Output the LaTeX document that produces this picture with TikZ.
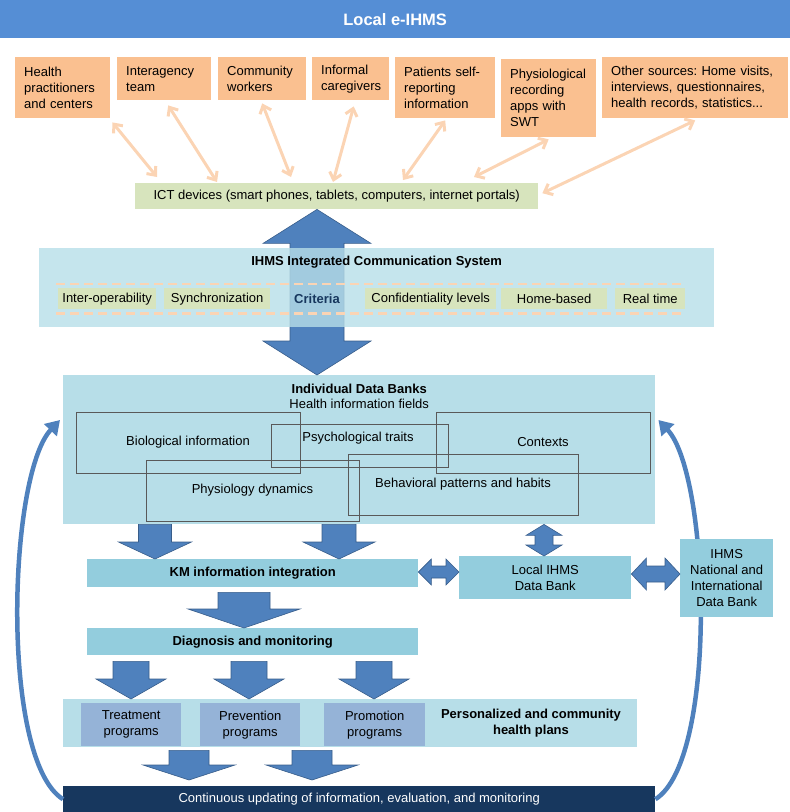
\documentclass[tikz,border=0pt]{standalone}
\usepackage{fontspec}
\setmainfont{Liberation Sans}
\usetikzlibrary{arrows.meta,calc}

\definecolor{titleblue}{HTML}{558ED5}
\definecolor{srcorange}{HTML}{FAC090}
\definecolor{linkorange}{HTML}{FBD4B4}
\definecolor{ictgreen}{HTML}{D7E4BD}
\definecolor{panelblue}{HTML}{B7DEE8}
\definecolor{stepblue}{HTML}{93CDDD}
\definecolor{progblue}{HTML}{95B3D7}
\definecolor{arrowblue}{HTML}{4F81BD}
\definecolor{arrowedge}{HTML}{385D8A}
\definecolor{navy}{HTML}{17375E}
\definecolor{fieldgray}{HTML}{595959}

\frenchspacing
\newcommand{\diagfont}{\fontsize{13}{16}\selectfont}

\tikzset{
  base/.style={anchor=north west, inner sep=0pt},
  srcbox/.style={base, fill=srcorange, align=left, inner xsep=9pt},
  crit/.style={base, fill=ictgreen, minimum height=21pt},
  field/.style={draw=fieldgray, line width=0.6pt},
  stepbox/.style={base, fill=stepblue, align=center},
  progbox/.style={base, fill=progblue, align=center, minimum width=100pt, minimum height=43pt},
  link/.style={draw=linkorange, line width=3pt, >={Straight Barb[length=7pt,width=12pt]}, <->},
  critline/.style={draw=linkorange, line width=2.5pt, dash pattern=on 9pt off 5pt},
  blockarrow/.style={fill=arrowblue, draw=arrowedge, line width=0.6pt},
  curvearrow/.style={draw=arrowblue, line width=4.5pt, -{Triangle[length=14pt,width=17pt]}}
}

% block arrows: x, shaft half width, head half width, start, end, head length
\newcommand{\blockdn}[6]{%
  \filldraw[blockarrow] let \p1=(#4), \p2=(#5) in
    ({(#1-#2)*1pt},\y1) -- ({(#1+#2)*1pt},\y1) -- ({(#1+#2)*1pt},\y2+#6pt)
    -- ({(#1+#3)*1pt},\y2+#6pt) -- ({#1*1pt},\y2) -- ({(#1-#3)*1pt},\y2+#6pt)
    -- ({(#1-#2)*1pt},\y2+#6pt) -- cycle;}
\newcommand{\blockvv}[6]{%
  \filldraw[blockarrow] let \p1=(#4), \p2=(#5) in
    ({#1*1pt},\y1) -- ({(#1+#3)*1pt},\y1-#6pt) -- ({(#1+#2)*1pt},\y1-#6pt)
    -- ({(#1+#2)*1pt},\y2+#6pt) -- ({(#1+#3)*1pt},\y2+#6pt) -- ({#1*1pt},\y2)
    -- ({(#1-#3)*1pt},\y2+#6pt) -- ({(#1-#2)*1pt},\y2+#6pt)
    -- ({(#1-#2)*1pt},\y1-#6pt) -- ({(#1-#3)*1pt},\y1-#6pt) -- cycle;}
% y, shaft half height, head half height, left, right, head length
\newcommand{\blockhh}[6]{%
  \filldraw[blockarrow] let \p1=(#4), \p2=(#5) in
    (\x1,{-#1*1pt}) -- (\x1+#6pt,{-(#1-#3)*1pt}) -- (\x1+#6pt,{-(#1-#2)*1pt})
    -- (\x2-#6pt,{-(#1-#2)*1pt}) -- (\x2-#6pt,{-(#1-#3)*1pt}) -- (\x2,{-#1*1pt})
    -- (\x2-#6pt,{-(#1+#3)*1pt}) -- (\x2-#6pt,{-(#1+#2)*1pt})
    -- (\x1+#6pt,{-(#1+#2)*1pt}) -- (\x1+#6pt,{-(#1+#3)*1pt}) -- cycle;}

\begin{document}
\begin{tikzpicture}[x=1pt, y=-1pt, every node/.style={font=\diagfont}]
  \useasboundingbox (0,0) rectangle (790,812);

  % title bar
  \node[base, fill=titleblue, text=white, minimum width=790pt, minimum height=38pt,
        font=\bfseries\fontsize{16.5}{18}\selectfont] (title) at (0,0) {Local e-IHMS};

  % information sources
  \node[srcbox, text width=77pt, minimum height=61pt] (hp) at (15,57) {Health\\practitioners\\and centers};
  \node[srcbox, text width=76pt, minimum height=43pt] (iat) at (117,57) {Interagency\\team};
  \node[srcbox, text width=70pt, minimum height=43pt] (cw) at (218,57) {Community\\workers};
  \node[srcbox, text width=59pt, minimum height=43pt] (ic) at (312,57) {Informal\\caregivers};
  \node[srcbox, text width=82pt, minimum height=61pt] (psr) at (395,57) {Patients self-\\reporting\\information};
  \node[srcbox, text width=77pt, minimum height=78pt] (pra) at (501,59) {Physiological\\recording\\apps with\\SWT};
  \node[srcbox, text width=168pt, minimum height=61pt] (oth) at (602,57) {Other sources: Home visits,\\interviews, questionnaires,\\health records, statistics...};

  \node[base, fill=ictgreen, minimum width=403pt, minimum height=26pt] (ict) at (135,183)
    {ICT devices (smart phones, tablets, computers, internet portals)};

  % links to ICT devices
  \draw[link] ($(hp.south east)+(2,4)$) -- ($(ict.north west)+(22,-6)$);
  \draw[link] ($(iat.south)+(4,5)$) -- ($(ict.north west)+(82,-1)$);
  \draw[link] ($(cw.south)+(0,3)$) -- ($(ict.north west)+(156,-6)$);
  \draw[link] ($(ic.south)+(3,6)$) -- ($(ict.north west)+(198,-1)$);
  \draw[link] ($(psr.south)+(0,2)$) -- ($(ict.north west)+(268,-3)$);
  \draw[link] ($(pra.south)+(0,2)$) -- ($(ict.north west)+(339,-6)$);
  \draw[link] ($(oth.south)+(0,2)$) -- ($(ict.east)+(4,-3)$);

  % individual data banks
  \node[base, fill=panelblue, minimum width=592pt, minimum height=149pt] (idb) at (63,375) {};
  \node[font=\diagfont\bfseries] (idbtitle) at ($(idb.north)+(0,14)$) {Individual Data Banks};
  \node (fields) at ($(idb.north)+(0,29)$) {Health information fields};
  \node[field, minimum width=224pt, minimum height=61pt] (bio) at (188,442.5) {Biological information};
  \node[field, minimum width=177pt, minimum height=43pt] (psy) at (359.5,445.5) {};
  \node (psytext) at (358,438) {Psychological traits};
  \node[field, minimum width=214pt, minimum height=61pt] (ctx) at (543,442.5) {Contexts};
  \node[field, minimum width=213pt, minimum height=61pt] (phy) at (252.5,490.5) {Physiology dynamics};
  \node[field, minimum width=230pt, minimum height=61pt] (beh) at (463,484.5) {Behavioral patterns and habits};

  % communication system
  \blockvv{317}{27}{54}{ict.south}{idb.north}{34}
  \node[base, fill=panelblue, fill opacity=0.8, text opacity=1, minimum width=675pt,
        minimum height=79pt] (ics) at (39,248) {};
  \node[font=\diagfont\bfseries] (icstitle) at ($(ics.north)+(0,14)$) {IHMS Integrated Communication System};
  \node[crit, minimum width=98pt] (interop) at (58,288) {Inter-operability};
  \node[crit, minimum width=106pt] (sync) at (164,288) {Synchronization};
  \node[font=\diagfont\bfseries, text=navy] (critlbl) at (317,298.5) {Criteria};
  \node[crit, minimum width=131pt] (conf) at (365,288) {Confidentiality levels};
  \node[crit, minimum width=106pt] (home) at (501,288) {Home-based};
  \node[crit, minimum width=70pt] (real) at (615,288) {Real time};
  \draw[critline] ($(interop.north west)+(-2,-4)$) -- ($(real.north east)+(0,-4)$);
  \draw[critline] ($(interop.south west)+(-2,4)$) -- ($(real.south east)+(0,4)$);

  % processing steps
  \node[stepbox, font=\diagfont\bfseries, minimum width=331pt, minimum height=28pt] (km) at (87,559) {KM information integration};
  \node[stepbox, minimum width=172pt, minimum height=43pt] (local) at (459,556) {Local IHMS\\Data Bank};
  \node[stepbox, font=\diagfont\bfseries, minimum width=331pt, minimum height=27pt] (diag) at (87,628) {Diagnosis and monitoring};

  \node[base, fill=panelblue, minimum width=574pt, minimum height=48pt] (plans) at (63,699) {};
  \node[progbox] (treat) at (81,703) {Treatment\\programs};
  \node[progbox] (prev) at (200,703) {Prevention\\programs};
  \node[progbox, minimum width=101pt] (prom) at (324,703) {Promotion\\programs};
  \node[font=\diagfont\bfseries, align=center] (planslbl) at (531,723) {Personalized and community\\health plans};

  \node[base, fill=navy, text=white, minimum width=592pt, minimum height=26pt] (upd) at (63,786)
    {Continuous updating of information, evaluation, and monitoring};

  % feedback loops
  \draw[curvearrow] (upd.west) .. controls (0,760) and (8,475) .. ($(idb.north west)+(-3,45)$);
  \draw[curvearrow] (upd.east) .. controls (718,760) and (710,475) .. ($(idb.north east)+(3,45)$);

  \node[stepbox, minimum width=93pt, minimum height=78pt] (natl) at (680,539) {IHMS\\National and\\International\\Data Bank};

  % block arrows
  \blockdn{155}{16.5}{36.5}{idb.south}{km.north}{17}
  \blockdn{339}{17}{36}{idb.south}{km.north}{17}
  \blockvv{544}{9}{18}{idb.south}{local.north}{11}
  \blockhh{572}{6}{13}{km.east}{local.west}{13}
  \blockhh{574}{8}{16}{local.east}{natl.west}{15}
  \blockdn{244}{26}{56}{$(km.south)+(0,5)$}{diag.north}{19}
  \foreach \cx in {131,249,374}
    {\blockdn{\cx}{18}{35}{$(diag.south)+(0,6)$}{plans.north}{20}}
  \foreach \cx in {189,312}
    {\blockdn{\cx}{20}{46}{$(plans.south)+(0,3)$}{$(upd.north)+(0,-6)$}{15}}
\end{tikzpicture}
\end{document}
